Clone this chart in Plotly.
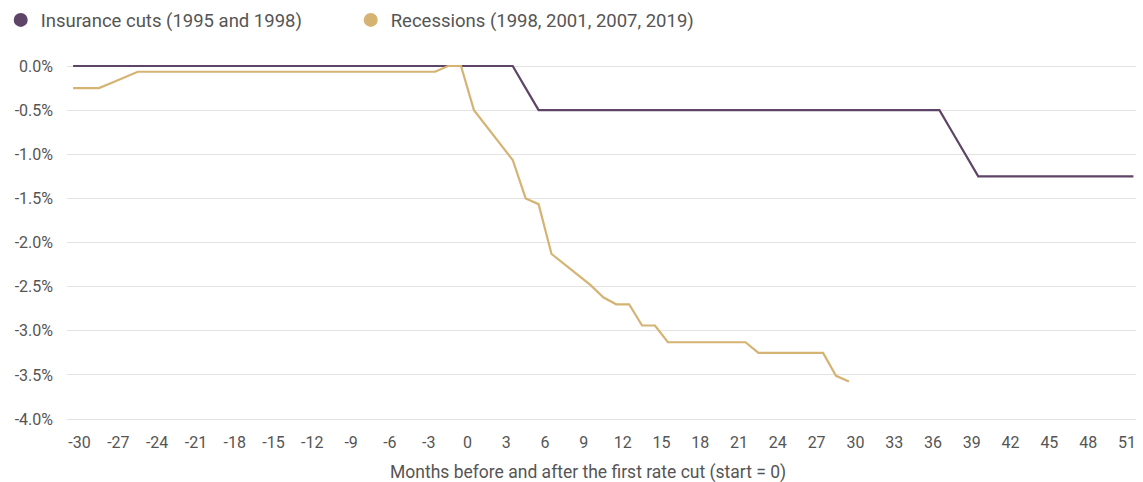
import plotly.graph_objects as go

# months relative to the first cut (label t sits half a month left of point t)
months = list(range(-31, 52))

insurance = ([0.0] * 35            # -31 .. 3
             + [-0.25]             # 4
             + [-0.5] * 32         # 5 .. 36
             + [-0.75, -1.0]       # 37, 38
             + [-1.25] * 13)       # 39 .. 51

recession = ([-0.25, -0.25, -0.25, -0.19, -0.13]   # -31 .. -27
             + [-0.065] * 23                        # -26 .. -4
             + [-0.065, 0.0, 0.0]                   # -3 .. -1
             + [-0.5, -0.69, -0.88, -1.065, -1.5, -1.565, -2.13, -2.25,
                -2.37, -2.48, -2.62, -2.7, -2.7, -2.94, -2.94]  # 0 .. 14
             + [-3.13] * 7                          # 15 .. 21
             + [-3.25] * 6                          # 22 .. 27
             + [-3.51, -3.575])                     # 28, 29

x_labels = list(range(-30, 52, 3))
y_labels = [0.0, -0.5, -1.0, -1.5, -2.0, -2.5, -3.0, -3.5, -4.0]

purple = "#5e4466"
gold = "#d5b373"
font = "Roboto"
grey = "#555555"

fig = go.Figure()
fig.add_trace(go.Scatter(x=months, y=insurance, mode="lines",
                         line=dict(color=purple, width=2.2), showlegend=False))
fig.add_trace(go.Scatter(x=months[:len(recession)], y=recession, mode="lines",
                         line=dict(color=gold, width=2.2), showlegend=False))
# legend entries drawn as dots
fig.add_trace(go.Scatter(x=[None], y=[None], mode="markers", name="Insurance cuts (1995 and 1998)",
                         marker=dict(color=purple, size=14)))
fig.add_trace(go.Scatter(x=[None], y=[None], mode="markers", name="Recessions (1998, 2001, 2007, 2019)",
                         marker=dict(color=gold, size=14)))

fig.update_layout(
    width=1143, height=482,
    margin=dict(l=67, r=7, t=57, b=59, autoexpand=False),
    plot_bgcolor="white", paper_bgcolor="white",
    font=dict(family=font, size=16, color=grey),
    legend=dict(orientation="h", x=-0.062, xanchor="left", y=1.10, yanchor="middle",
                font=dict(size=18.5, color=grey), entrywidth=305, itemwidth=30,
                bgcolor="rgba(0,0,0,0)"),
    xaxis=dict(range=[-31.47, 51.2], showgrid=False, zeroline=False, showline=False,
               tickvals=[t - 0.5 for t in x_labels],
               ticktext=[str(t) for t in x_labels],
               ticks="", ticklabelstandoff=8, automargin=False),
    yaxis=dict(range=[-4.045, 0.102], showgrid=True, gridcolor="#e3e3e3", gridwidth=1,
               zeroline=False, showline=False,
               tickvals=y_labels, ticktext=["%.1f%%" % v for v in y_labels],
               ticks="", ticklabelstandoff=13, automargin=False),
    annotations=[dict(text="Months before and after the first rate cut (start = 0)",
                      xref="paper", yref="paper", x=0.487, y=-0.134,
                      xanchor="center", yanchor="middle", showarrow=False,
                      font=dict(size=17.5, color=grey))],
)

fig.write_html("out.html", config={"displayModeBar": False},
               post_script="document.body.style.margin = '0';")
